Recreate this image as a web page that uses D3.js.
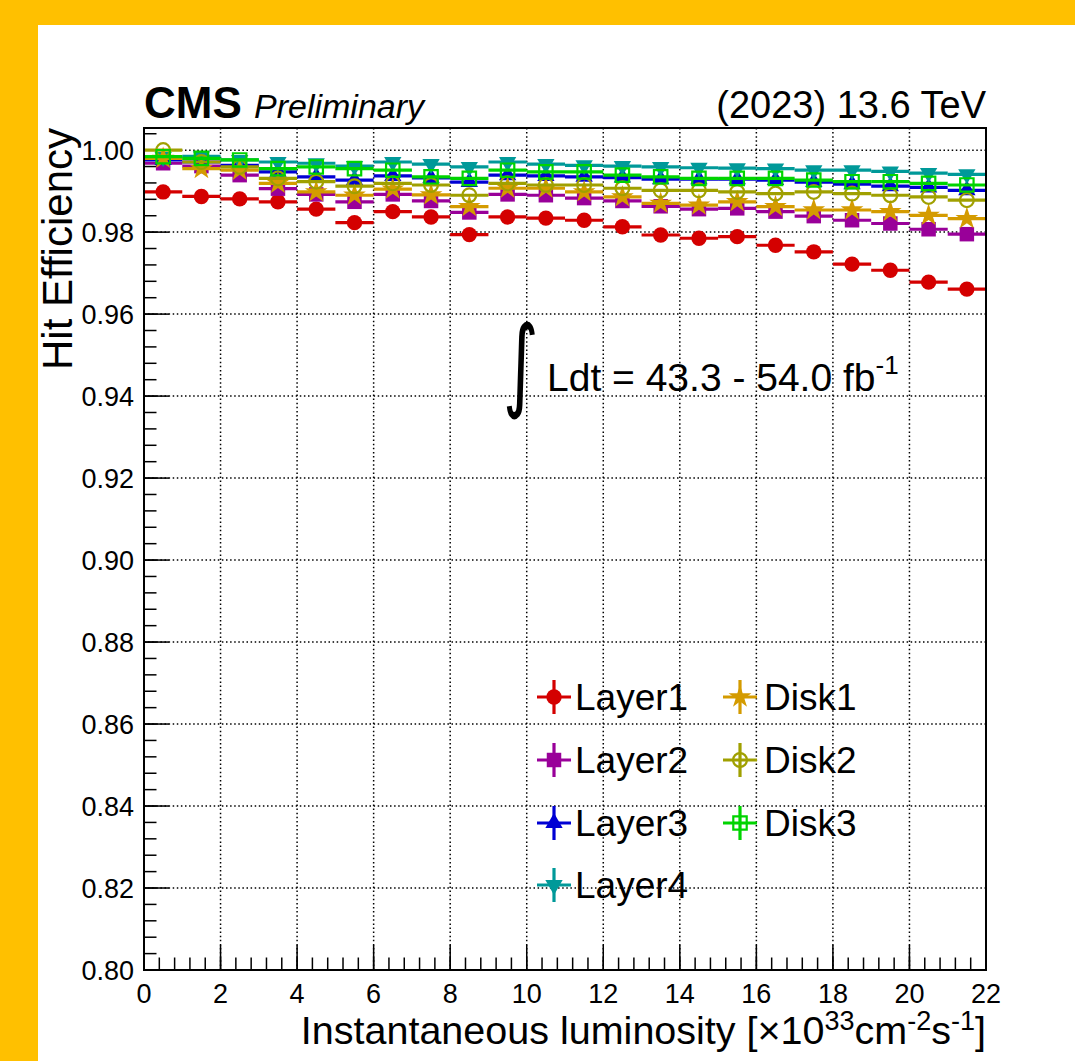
<!DOCTYPE html>
<html><head><meta charset="utf-8">
<script src="https://cdn.jsdelivr.net/npm/d3@7"></script>
<style>body{margin:0;padding:0;background:#fff;}svg{display:block;}</style>
</head><body>
<script>
const binCenters = [0.5,1.5,2.5,3.5,4.5,5.5,6.5,7.5,8.5,9.5,10.5,11.5,12.5,13.5,14.5,15.5,16.5,17.5,18.5,19.5,20.5,21.5];
const binHalfWidth = 0.5;
const layer1 = [0.9898,0.9887,0.9881,0.9874,0.9856,0.9823,0.9850,0.9837,0.9794,0.9837,0.9834,0.9829,0.9813,0.9793,0.9785,0.9789,0.9768,0.9752,0.9722,0.9707,0.9678,0.9661];
const layer2 = [0.9968,0.9961,0.9939,0.9906,0.9892,0.9874,0.9892,0.9876,0.9848,0.9892,0.9890,0.9883,0.9876,0.9863,0.9856,0.9858,0.9850,0.9839,0.9829,0.9821,0.9807,0.9795];
const layer3 = [0.9976,0.9971,0.9963,0.9947,0.9935,0.9927,0.9937,0.9932,0.9922,0.9939,0.9937,0.9935,0.9933,0.9929,0.9929,0.9929,0.9927,0.9922,0.9917,0.9912,0.9909,0.9902];
const layer4 = [0.9983,0.9985,0.9976,0.9971,0.9968,0.9961,0.9971,0.9966,0.9959,0.9971,0.9966,0.9963,0.9961,0.9959,0.9957,0.9956,0.9955,0.9951,0.9951,0.9948,0.9944,0.9941];
const disk1 = [0.9980,0.9955,0.9951,0.9919,0.9898,0.9890,0.9905,0.9891,0.9862,0.9907,0.9907,0.9898,0.9886,0.9870,0.9866,0.9874,0.9862,0.9854,0.9854,0.9850,0.9841,0.9833];
const disk2 = [1.0000,0.9971,0.9959,0.9931,0.9923,0.9912,0.9919,0.9915,0.9890,0.9919,0.9915,0.9915,0.9907,0.9902,0.9902,0.9898,0.9894,0.9898,0.9894,0.9890,0.9886,0.9878];
const disk3 = [0.9984,0.9980,0.9976,0.9955,0.9959,0.9955,0.9951,0.9935,0.9931,0.9951,0.9947,0.9947,0.9939,0.9935,0.9931,0.9931,0.9931,0.9927,0.9923,0.9923,0.9919,0.9915];

const seriesNames = ["Layer1","Layer2","Layer3","Layer4","Disk1","Disk2","Disk3"];
const seriesValues = [layer1, layer2, layer3, layer4, disk1, disk2, disk3];
const seriesColors = ["#d40000","#990099","#0000d4","#009999","#d49b00","#a0a000","#00d400"];
const seriesMarkers = ["circle","square","triUp","triDown","star","openCircle","openSquare"];

const xTickLabels = ["0","2","4","6","8","10","12","14","16","18","20","22"];
const yTickLabels = ["0.80","0.82","0.84","0.86","0.88","0.90","0.92","0.94","0.96","0.98","1.00"];
const xDomain = [0, 22];
const yDomain = [0.80, 1.0054];

const W = 1075, H = 1061;
const frame = {l:144, r:986, t:128, b:970};
const font = "'Liberation Sans', Arial, Helvetica, sans-serif";

const svg = d3.select("body").append("svg").attr("width", W).attr("height", H);
svg.append("rect").attr("width", W).attr("height", H).attr("fill", "#ffc000");
svg.append("rect").attr("x", 38).attr("y", 25).attr("width", W-38).attr("height", H-25).attr("fill", "#fff");

const x = d3.scaleLinear().domain(xDomain).range([frame.l, frame.r]);
const y = d3.scaleLinear().domain(yDomain).range([frame.b, frame.t]);

// grid
const gridX = xTickLabels.map(Number).filter(v => v > xDomain[0] && v < xDomain[1]);
const gridY = yTickLabels.map(Number).filter(v => v > yDomain[0] && v < yDomain[1]);
const grid = svg.append("g").attr("stroke", "#000").attr("stroke-width", 1.5).attr("stroke-dasharray", "1.5,2.6");
grid.selectAll("line.gx").data(gridX).join("line").attr("x1", d => x(d)).attr("x2", d => x(d)).attr("y1", frame.t).attr("y2", frame.b);
grid.selectAll("line.gy").data(gridY).join("line").attr("y1", d => y(d)).attr("y2", d => y(d)).attr("x1", frame.l).attr("x2", frame.r);

// axes ticks
const xMinor = d3.range(0, 22.0001, 0.4);
const yMinor = d3.range(0.80, 1.0054, 0.004);
const axG = svg.append("g").attr("stroke", "#000").attr("stroke-width", 1.5);
axG.selectAll("line.xm").data(xMinor).join("line")
  .attr("x1", d => x(d)).attr("x2", d => x(d)).attr("y1", frame.b).attr("y2", frame.b - 12.5);
axG.selectAll("line.xM").data(xTickLabels.map(Number)).join("line")
  .attr("x1", d => x(d)).attr("x2", d => x(d)).attr("y1", frame.b).attr("y2", frame.b - 25);
axG.selectAll("line.ym").data(yMinor).join("line")
  .attr("y1", d => y(d)).attr("y2", d => y(d)).attr("x1", frame.l).attr("x2", frame.l + 12.5);
axG.selectAll("line.yM").data(yTickLabels.map(Number)).join("line")
  .attr("y1", d => y(d)).attr("y2", d => y(d)).attr("x1", frame.l).attr("x2", frame.l + 25);

// tick labels
svg.append("g").selectAll("text").data(xTickLabels).join("text")
  .attr("x", d => x(+d)).attr("y", 1003).attr("text-anchor", "middle")
  .attr("font-family", font).attr("font-size", 27).text(d => d);
svg.append("g").selectAll("text").data(yTickLabels).join("text")
  .attr("x", 134).attr("y", d => y(+d) + 9.5).attr("text-anchor", "end")
  .attr("font-family", font).attr("font-size", 27).text(d => d);

// data
function markerPath(kind, size) {
  switch (kind) {
    case "circle": case "openCircle": return d3.symbol(d3.symbolCircle, size)();
    case "square": case "openSquare": return d3.symbol(d3.symbolSquare, size)();
    case "triUp": case "triDown": return d3.symbol(d3.symbolTriangle, size)();
    case "star": return d3.symbol(d3.symbolStar, size)();
  }
}
const markerSizes = {circle:185, square:210, triUp:130, triDown:130, star:160, openCircle:150, openSquare:180};
function drawMarker(g, kind, color, cx, cy) {
  const open = kind.startsWith("open");
  const p = g.append("path").attr("d", markerPath(kind, markerSizes[kind]))
    .attr("transform", `translate(${cx},${cy})` + (kind === "triDown" ? " rotate(180)" : ""));
  if (open) p.attr("fill", "none").attr("stroke", color).attr("stroke-width", 2.2);
  else p.attr("fill", color);
}

const dataG = svg.append("g");
seriesValues.forEach((vals, si) => {
  const g = dataG.append("g");
  const color = seriesColors[si];
  g.selectAll("line").data(vals).join("line")
    .attr("x1", (d, i) => x(binCenters[i] - binHalfWidth))
    .attr("x2", (d, i) => x(binCenters[i] + binHalfWidth))
    .attr("y1", d => y(d)).attr("y2", d => y(d))
    .attr("stroke", color).attr("stroke-width", 3.2);
  vals.forEach((d, i) => drawMarker(g, seriesMarkers[si], color, x(binCenters[i]), y(d)));
});

// frame
svg.append("rect").attr("x", frame.l).attr("y", frame.t).attr("width", frame.r - frame.l).attr("height", frame.b - frame.t)
  .attr("fill", "none").attr("stroke", "#000").attr("stroke-width", 2);

// legend
const legendCols = [{mx: 554, tx: 575}, {mx: 740, tx: 764}];
const legendRows = [697, 760, 823, 885];
const legendLayout = [[0,0],[0,1],[0,2],[0,3],[1,0],[1,1],[1,2]];
const legG = svg.append("g");
seriesNames.forEach((name, si) => {
  const [c, r] = legendLayout[si];
  const mx = legendCols[c].mx, my = legendRows[r];
  const color = seriesColors[si];
  legG.append("line").attr("x1", mx - 17).attr("x2", mx + 17).attr("y1", my).attr("y2", my).attr("stroke", color).attr("stroke-width", 3.2);
  legG.append("line").attr("x1", mx).attr("x2", mx).attr("y1", my - 17).attr("y2", my + 17).attr("stroke", color).attr("stroke-width", 3.2);
  drawMarker(legG, seriesMarkers[si], color, mx, my);
  legG.append("text").attr("x", legendCols[c].tx).attr("y", my + 13).attr("font-family", font).attr("font-size", 37).text(name);
});

// header texts
svg.append("text").attr("x", 144).attr("y", 118).attr("font-family", font).attr("font-weight", "bold").attr("font-size", 44).text("CMS");
svg.append("text").attr("x", 254).attr("y", 118).attr("font-family", font).attr("font-style", "italic").attr("font-size", 34).text("Preliminary");
svg.append("text").attr("x", 986).attr("y", 118).attr("text-anchor", "end").attr("font-family", font).attr("font-size", 38).text("(2023) 13.6 TeV");

// axis titles
svg.append("text").attr("transform", "translate(72,128) rotate(-90)").attr("text-anchor", "end")
  .attr("font-family", font).attr("font-size", 42).text("Hit Efficiency");
const xt = svg.append("text").attr("x", 986).attr("y", 1044).attr("text-anchor", "end").attr("font-family", font).attr("font-size", 39.5);
xt.append("tspan").text("Instantaneous luminosity [×10");
xt.append("tspan").attr("dy", -14).attr("font-size", 27).text("33");
xt.append("tspan").attr("dy", 14).text("cm");
xt.append("tspan").attr("dy", -14).attr("font-size", 27).text("-2");
xt.append("tspan").attr("dy", 14).text("s");
xt.append("tspan").attr("dy", -14).attr("font-size", 27).text("-1");
xt.append("tspan").attr("dy", 14).text("]");

// luminosity annotation
svg.append("text").attr("transform", "translate(503,398) scale(0.68,1)")
  .attr("font-family", "'DejaVu Sans', sans-serif")
  .attr("font-size", 101).text("∫");
const lt = svg.append("text").attr("x", 547).attr("y", 391).attr("font-family", font).attr("font-size", 39);
lt.append("tspan").text("Ldt = 43.3 - 54.0 fb");
lt.append("tspan").attr("dy", -17).attr("font-size", 26).text("-1");
</script>
</body></html>
